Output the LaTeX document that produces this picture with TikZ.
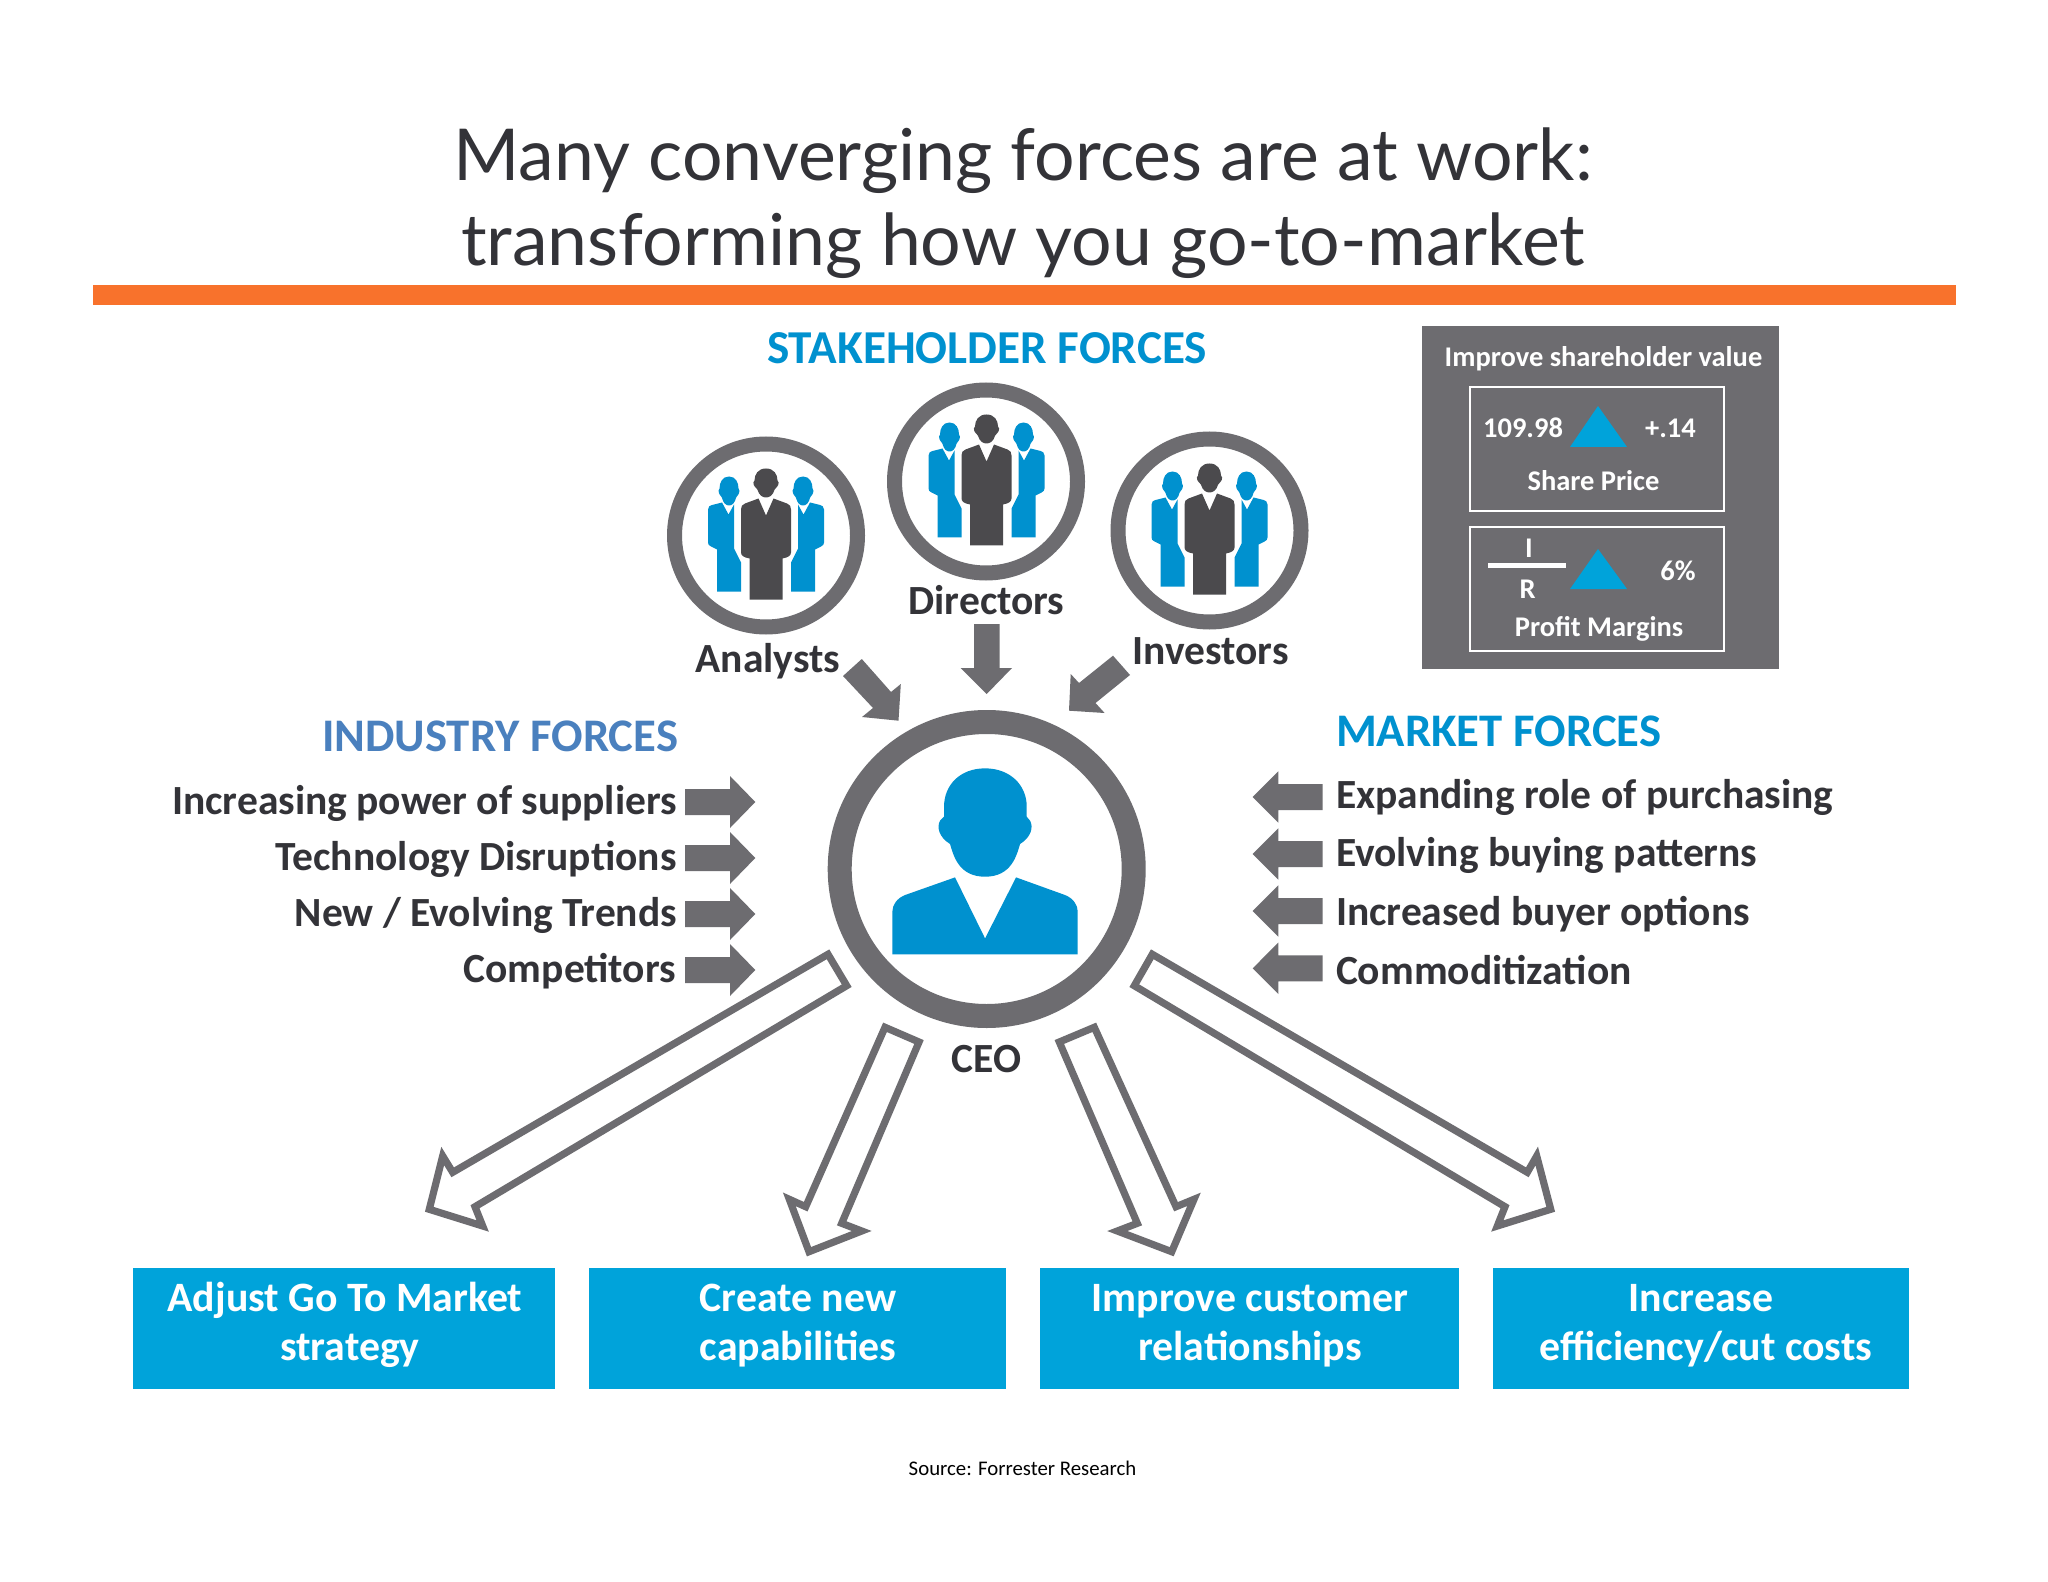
\documentclass[tikz,border=0pt]{standalone}
\usepackage{fontspec}
\setmainfont{Carlito}
\newfontfamily\titlefont{Lato}
\definecolor{iconblue}{HTML}{0091CF}
\definecolor{boxblue}{HTML}{00A3DA}
\definecolor{steel}{HTML}{6D6C70}
\definecolor{inkdark}{HTML}{333338}
\definecolor{figdark}{HTML}{4B4A4D}
\definecolor{barorange}{HTML}{F8722C}
\definecolor{indblue}{HTML}{4A80BE}
\tikzset{
  lbl/.style={inner sep=0pt,outer sep=0pt,anchor=base},
  headfont/.style={font=\fontsize{23.6}{28}\selectfont\bfseries},
  sidehead/.style={font=\fontsize{23.35}{28}\selectfont\bfseries},
  itemfont/.style={font=\fontsize{20.75}{25}\selectfont\bfseries,text=inkdark},
  smallwhite/.style={font=\fontsize{14.25}{17}\selectfont\bfseries,text=white},
  titletext/.style={font=\titlefont\fontsize{35.8}{42}\selectfont,text=inkdark},
  hollow/.style={draw=steel,line width=3.6pt,fill=white,line join=miter},
  solidarrow/.style={fill=steel,draw=none},
  ring/.style={draw=steel,fill=white},
  goalbox/.style={fill=boxblue,draw=none},
  goaltext/.style={font=\fontsize{20.9}{25}\selectfont\bfseries,text=white}
}
\newcommand{\headshape}[3]{% centre x, top y, half width
  (#1,#2) .. controls ({#1+0.7*#3},#2) and ({#1+#3},{#2+6}) .. ({#1+#3},{#2+12})
  -- ({#1+1.1*#3},{#2+14}) .. controls ({#1+1.1*#3},{#2+18}) and ({#1+0.85*#3},{#2+19}) .. ({#1+0.75*#3},{#2+21})
  .. controls ({#1+0.6*#3},{#2+27}) and ({#1+0.3*#3},{#2+29}) .. (#1,{#2+29})
  .. controls ({#1-0.3*#3},{#2+29}) and ({#1-0.6*#3},{#2+27}) .. ({#1-0.75*#3},{#2+21})
  .. controls ({#1-0.85*#3},{#2+19}) and ({#1-1.1*#3},{#2+18}) .. ({#1-1.1*#3},{#2+14})
  -- ({#1-#3},{#2+12}) .. controls ({#1-#3},{#2+6}) and ({#1-0.7*#3},#2) .. (#1,#2) -- cycle}
\newcommand{\sidefigure}{%
  \fill[iconblue] \headshape{-37}{-59}{9.5};
  \fill[iconblue] (-44,-33) -- (-37.5,-21) -- (-32,-31) -- (-32,13) -- (-25,27) -- (-25,56) -- (-49,56)
     -- (-49,14) -- (-55,11) .. controls (-57,10) and (-58,9) .. (-58,7) -- (-58,-26) .. controls (-58,-29) and (-56,-30) .. (-54,-30.5) -- cycle;
}
\newcommand{\peopleicon}[1]{%
  \begin{scope}[shift={(#1)}]
    \sidefigure
    \begin{scope}[xscale=-1]\sidefigure\end{scope}
    \fill[figdark] \headshape{0}{-67}{11.5};
    \fill[figdark] (-7.5,-37) -- (0,-20) -- (7.5,-37) -- (21,-32) .. controls (24,-31) and (25,-29) .. (25,-26)
      -- (25,17) .. controls (25,20) and (22,22) .. (16.5,23) -- (16.5,64) -- (-16.5,64) -- (-16.5,23)
      .. controls (-22,22) and (-25,20) .. (-25,17) -- (-25,-26) .. controls (-25,-29) and (-24,-31) .. (-21,-32) -- cycle;
  \end{scope}
}
\newcommand{\rightarrowshape}[1]{%
  \fill[solidarrow,shift={(0,#1)}] (685,-13) -- (730,-13) -- (730,-26) -- (755.3,0) -- (730,26) -- (730,13) -- (685,13) -- cycle;}
\newcommand{\leftarrowshape}[1]{%
  \fill[solidarrow,shift={(0,#1)}] (1322.7,-13) -- (1278.3,-13) -- (1278.3,-25.7) -- (1252.7,0) -- (1278.3,25.7) -- (1278.3,13) -- (1322.7,13) -- cycle;}
\begin{document}
\begin{tikzpicture}[x=0.5pt,y=-0.5pt]
\useasboundingbox (0,0) rectangle (2048,1582);
\fill[white] (0,0) rectangle (2048,1582);
% title
\node[lbl,titletext] (title1) at (1023,181) {Many converging forces are at work:};
\node[lbl,titletext] (title2) at (1023,266) {transforming how you go-to-market};
\fill[barorange] (93,285) rectangle (1956,305);
% stakeholder
\node[lbl,headfont,text=iconblue] (stake) at (987,364) {STAKEHOLDER FORCES};
\foreach \c in {(766,535.5),(986,481.5),(1209.5,530.5)} {
  \draw[ring,line width=7.5pt] \c circle[radius=91.5];
}
\peopleicon{766,535.5}
\peopleicon{986.5,481.5}
\peopleicon{1209.5,530.5}
\node[lbl,itemfont] (analysts) at (768,672) {Analysts};
\node[lbl,itemfont] (directors) at (986.5,614) {Directors};
\node[lbl,itemfont] (investors) at (1210.5,664) {Investors};
\fill[solidarrow] (974,624) -- (999.5,624) -- (999.5,668) -- (1012,668) -- (986.7,694) -- (960.5,668) -- (974,668) -- cycle;
\fill[solidarrow] (861.8,659) -- (843,676) -- (873,708) -- (862,717) -- (898.5,720.7) -- (900.8,684) -- (891,692) -- cycle;
\fill[solidarrow] (1113,655.7) -- (1130,675) -- (1095.5,703) -- (1104.6,713) -- (1069,710.7) -- (1070.7,674) -- (1079,683) -- cycle;
% shareholder box
\fill[steel] (1422,326) rectangle (1779,669);
\node[lbl,smallwhite] (improve) at (1603.5,367) {Improve shareholder value};
\draw[white,line width=1pt] (1470,387.5) rectangle (1724,511.5);
\draw[white,line width=1pt] (1470,527.5) rectangle (1724,651);
\node[lbl,smallwhite] (price) at (1523,438) {109.98};
\node[lbl,smallwhite] (delta) at (1670.5,438) {+.14};
\fill[boxblue] (1598,406) -- (1627,447) -- (1570,447) -- cycle;
\node[lbl,smallwhite] (shareprice) at (1593.5,491) {Share Price};
\node[lbl,smallwhite] (numi) at (1529,558) {I};
\fill[white] (1488,563.5) rectangle (1566,568);
\node[lbl,smallwhite] (numr) at (1527.7,598.5) {R};
\fill[boxblue] (1598,549) -- (1627,589) -- (1570,589) -- cycle;
\node[lbl,smallwhite] (pct) at (1678,581) {6\%};
\node[lbl,smallwhite] (margins) at (1599,636.5) {Profit Margins};
% CEO
\draw[ring,line width=12pt] (986.7,869) circle[radius=147];
\begin{scope}[shift={(800,690)},x=0.1667pt,y=-0.1667pt]
  \fill[iconblue] (555,235) .. controls (630,235) and (680,285) .. (680,350) -- (680,380) -- (690,392)
    .. controls (700,410) and (695,440) .. (660,462) .. controls (650,495) and (635,560) .. (555,560)
    .. controls (475,560) and (460,495) .. (450,462) .. controls (415,440) and (410,410) .. (420,392)
    -- (432,380) -- (432,350) .. controls (432,285) and (480,235) .. (555,235) -- cycle;
  \fill[iconblue] (465,562) -- (555,745) -- (648,562) -- (795,615) .. controls (820,625) and (833,645) .. (833,665)
    -- (833,793) -- (277,793) -- (277,665) .. controls (277,645) and (290,625) .. (315,615) -- cycle;
\end{scope}
\node[lbl,itemfont] (ceo) at (986.5,1072) {CEO};
% industry
\node[lbl,sidehead,text=indblue,anchor=base east] (industry) at (678,751) {INDUSTRY FORCES};
\node[lbl,itemfont,anchor=base east] (ind1) at (677,814) {Increasing power of suppliers};
\node[lbl,itemfont,anchor=base east] (ind2) at (676.5,870) {Technology Disruptions};
\node[lbl,itemfont,anchor=base east] (ind3) at (677,926) {New / Evolving Trends};
\node[lbl,itemfont,anchor=base east] (ind4) at (676,982) {Competitors};
\rightarrowshape{802}\rightarrowshape{858}\rightarrowshape{914}\rightarrowshape{970}
% market
\node[lbl,sidehead,text=iconblue,anchor=base west] (market) at (1336,746) {MARKET FORCES};
\node[lbl,itemfont,anchor=base west] (mkt1) at (1336,808) {Expanding role of purchasing};
\node[lbl,itemfont,anchor=base west] (mkt2) at (1336,866) {Evolving buying patterns};
\node[lbl,itemfont,anchor=base west] (mkt3) at (1336,925) {Increased buyer options};
\node[lbl,itemfont,anchor=base west] (mkt4) at (1336,984) {Commoditization};
\leftarrowshape{797}\leftarrowshape{854}\leftarrowshape{911}\leftarrowshape{968.3}
% hollow arrows
\draw[hollow] (828,954.3) -- (846.7,985.7) -- (475,1206.7) -- (482.7,1226) -- (429.3,1209.3) -- (442.7,1156) -- (452.7,1172.3) -- cycle;
\draw[hollow] (885,1027.3) -- (805.7,1206.7) -- (789.3,1199.3) -- (809,1251.7) -- (861.7,1231) -- (841.7,1223.3) -- (919,1042) -- cycle;
\draw[hollow] (1094.3,1027.3) -- (1176,1206.7) -- (1194,1199.3) -- (1171.7,1251.7) -- (1117.3,1231) -- (1137.3,1223.3) -- (1059.3,1042) -- cycle;
\draw[hollow] (1152.3,954.3) -- (1134.3,985.7) -- (1505,1206.7) -- (1497.3,1226) -- (1550.7,1209.3) -- (1536.7,1156) -- (1527.3,1172.3) -- cycle;
% goals
\fill[goalbox] (133,1268.3) rectangle (555,1389);
\fill[goalbox] (589.3,1268.3) rectangle (1006,1389);
\fill[goalbox] (1040,1268.3) rectangle (1459.3,1389);
\fill[goalbox] (1493.3,1268.3) rectangle (1909,1389);
\node[lbl,goaltext] (g1a) at (345,1311) {Adjust Go To Market};
\node[lbl,goaltext] (g1b) at (350,1360) {strategy};
\node[lbl,goaltext] (g2a) at (798,1311) {Create new};
\node[lbl,goaltext] (g2b) at (798,1360) {capabilities};
\node[lbl,goaltext] (g3a) at (1250,1311) {Improve customer};
\node[lbl,goaltext] (g3b) at (1250,1360) {relationships};
\node[lbl,goaltext] (g4a) at (1701,1311) {Increase};
\node[lbl,goaltext] (g4b) at (1706,1360) {efficiency/cut costs};
\node[lbl,font=\fontsize{10.4}{13}\selectfont,text=black] (source) at (1022.5,1475) {Source: Forrester Research};
\end{tikzpicture}
\end{document}
